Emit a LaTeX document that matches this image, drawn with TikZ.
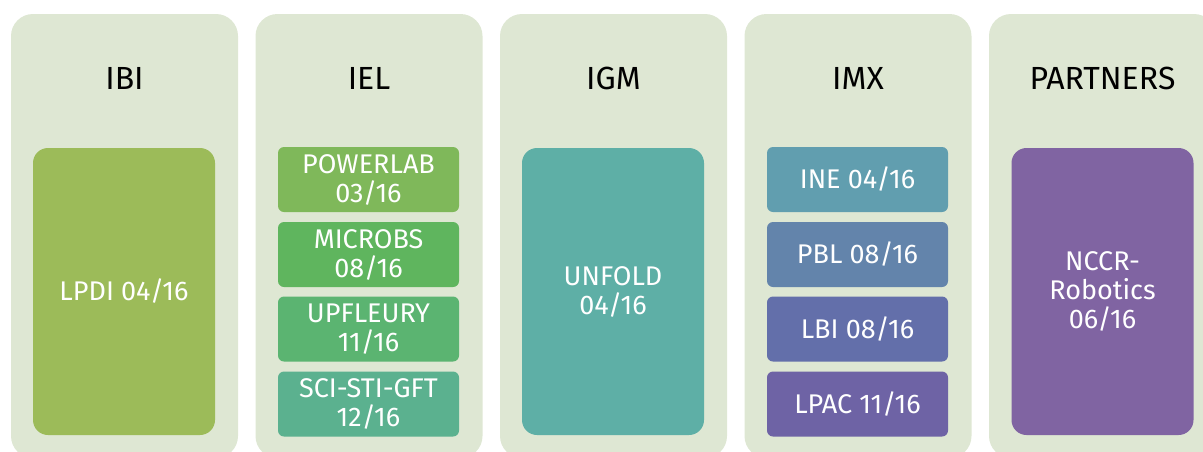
\documentclass[tikz,border=0pt]{standalone}
\usepackage{fontspec}
\setmainfont{Fira Sans}
\definecolor{panelcolor}{HTML}{DEE7D3}
\definecolor{lpdicolor}{HTML}{9CBB59}
\definecolor{powercolor}{HTML}{7FB85A}
\definecolor{microbscolor}{HTML}{5FB55E}
\definecolor{fleurycolor}{HTML}{5BB471}
\definecolor{gftcolor}{HTML}{5BB18F}
\definecolor{unfoldcolor}{HTML}{5EAFA6}
\definecolor{inecolor}{HTML}{619EAF}
\definecolor{pblcolor}{HTML}{6384AB}
\definecolor{lbicolor}{HTML}{636FAA}
\definecolor{lpaccolor}{HTML}{6E63A5}
\definecolor{nccrcolor}{HTML}{8064A2}

\begin{document}
\begin{tikzpicture}[x=0.5pt, y=-0.5pt,
    panel/.style={fill=panelcolor, rounded corners=11pt, minimum width=113.5pt, minimum height=222pt, inner sep=0pt},
    heading/.style={font=\fontsize{16}{18}\selectfont},
    bigbox/.style={rounded corners=7.5pt, minimum width=91pt, minimum height=143.5pt, inner sep=0pt, text=white, align=center, font=\fontsize{13.5}{14.5}\selectfont},
    smallbox/.style={rounded corners=3pt, minimum width=90.5pt, minimum height=32.5pt, inner sep=0pt, text=white, align=center, font=\fontsize{13.5}{14.5}\selectfont}]
\useasboundingbox (0,0) rectangle (1203,451);
\clip (0,0) rectangle (1203,451);

% Columns
\foreach \name/\x/\txt in {ibi/124.5/IBI, iel/369/IEL, igm/613.5/IGM, imx/858/IMX, partners/1102.5/PARTNERS} {
    \node[panel] (\name) at (\x,236) {};
    \node[heading] (\name-title) at (\x,78) {\txt};
}

% Single labs
\node[bigbox, fill=lpdicolor] (lpdi) at (124,291.5) {LPDI 04/16};
\node[bigbox, fill=unfoldcolor] (unfold) at (613,291.5) {UNFOLD\\04/16};
\node[bigbox, fill=nccrcolor] (nccr) at (1102.5,291.5) {NCCR-\\Robotics\\06/16};

% IEL labs
\foreach \name/\y/\col/\txt in {powerlab/179.5/powercolor/{POWERLAB\\03/16}, microbs/254.5/microbscolor/{MICROBS\\08/16}, upfleury/329/fleurycolor/{UPFLEURY\\11/16}, scisti/404/gftcolor/{SCI-STI-GFT\\12/16}} {
    \node[smallbox, fill=\col] (\name) at (368.5,\y) {\txt};
}

% IMX labs
\foreach \name/\y/\col/\txt in {ine/179.5/inecolor/{INE 04/16}, pbl/254.5/pblcolor/{PBL 08/16}, lbi/329/lbicolor/{LBI 08/16}, lpac/404/lpaccolor/{LPAC 11/16}} {
    \node[smallbox, fill=\col] (\name) at (857.5,\y) {\txt};
}
\end{tikzpicture}
\end{document}
